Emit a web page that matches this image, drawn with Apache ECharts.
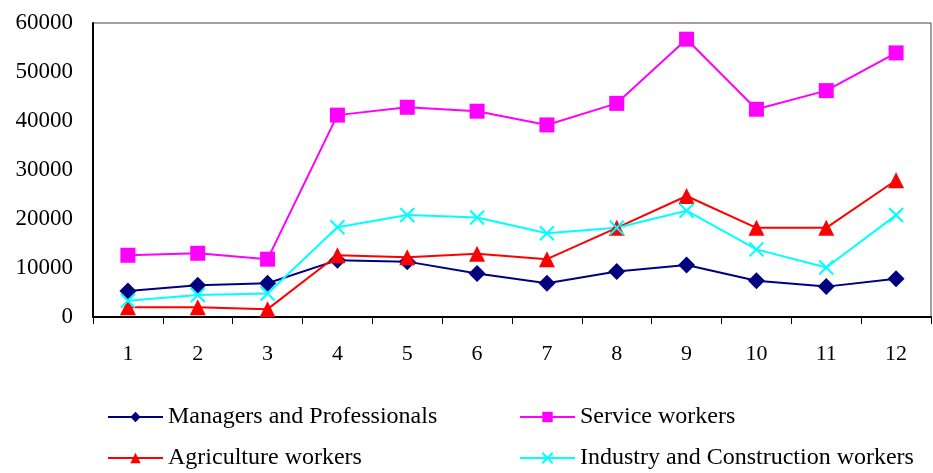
<!DOCTYPE html>
<html>
<head>
<meta charset="utf-8">
<script src="https://cdn.jsdelivr.net/npm/echarts@6/dist/echarts.min.js"></script>
<style>
    html, body { margin: 0; padding: 0; background: #fff; }
    #main { width: 933px; height: 473px; }
</style>
</head>
<body>
<div id="main"></div>
<script>
var categories = ['1', '2', '3', '4', '5', '6', '7', '8', '9', '10', '11', '12'];
var managers = [5300, 6500, 6900, 11600, 11300, 8900, 6900, 9300, 10600, 7400, 6200, 7800];
var service = [12600, 13000, 11800, 41200, 42800, 42000, 39200, 43600, 56700, 42400, 46200, 53900];
var agriculture = [2000, 2000, 1600, 12600, 12200, 12900, 11800, 18200, 24700, 18200, 18200, 27900];
var industry = [3300, 4500, 4800, 18300, 20800, 20300, 17100, 18200, 21700, 13800, 10100, 20800];

var names = ['Managers and Professionals', 'Service workers', 'Agriculture workers', 'Industry and Construction workers'];

var font = 'Liberation Serif';
var myChart = echarts.init(document.getElementById('main'));

function makeSeries(name, data, color, symbol, size, extra) {
    var s = {
        name: name,
        type: 'line',
        data: data,
        symbol: symbol,
        symbolSize: size,
        lineStyle: { color: color, width: 2 },
        itemStyle: { color: color },
        animation: false
    };
    if (extra) {
        s.itemStyle = extra;
    }
    return s;
}

var legendText = { fontFamily: font, fontSize: 24, color: '#000', width: 336, lineHeight: 24 };

option = {
    backgroundColor: '#fff',
    animation: false,
    grid: {
        left: 93,
        top: 23,
        right: 2,
        bottom: 156,
        show: true,
        borderColor: '#444',
        borderWidth: 1
    },
    legend: [
        {
            data: [names[0], names[1]],
            left: 102,
            top: 400,
            width: 828,
            itemWidth: 55,
            itemHeight: 13,
            itemGap: 15,
            textStyle: legendText
        },
        {
            data: [names[2], names[3]],
            left: 102,
            top: 441,
            width: 828,
            itemWidth: 55,
            itemHeight: 13,
            itemGap: 15,
            textStyle: legendText
        }
    ],
    xAxis: {
        type: 'category',
        data: categories,
        boundaryGap: true,
        axisLine: { lineStyle: { color: '#000', width: 2 } },
        axisTick: { show: true, length: 7, lineStyle: { color: '#000' } },
        axisLabel: { fontFamily: font, fontSize: 22, color: '#000', margin: 26 },
        splitLine: { show: false }
    },
    yAxis: {
        type: 'value',
        min: 0,
        max: 60000,
        interval: 10000,
        axisLine: { show: true, lineStyle: { color: '#000', width: 2 } },
        axisTick: { show: false },
        axisLabel: {
            fontFamily: font, fontSize: 23, color: '#000', margin: 20,
            formatter: function (v) { return String(v); }
        },
        splitLine: { show: false }
    },
    series: [
        makeSeries(names[0], managers, '#000080', 'diamond', 17),
        makeSeries(names[1], service, '#ff00ff', 'rect', 15),
        makeSeries(names[2], agriculture, '#ff0000', 'triangle', 16),
        makeSeries(names[3], industry, '#00ffff', 'path://M0,0L10,10M10,0L0,10', 14,
            { color: 'none', borderColor: '#00ffff', borderWidth: 2 })
    ]
};
myChart.setOption(option, true);
</script>
</body>
</html>
